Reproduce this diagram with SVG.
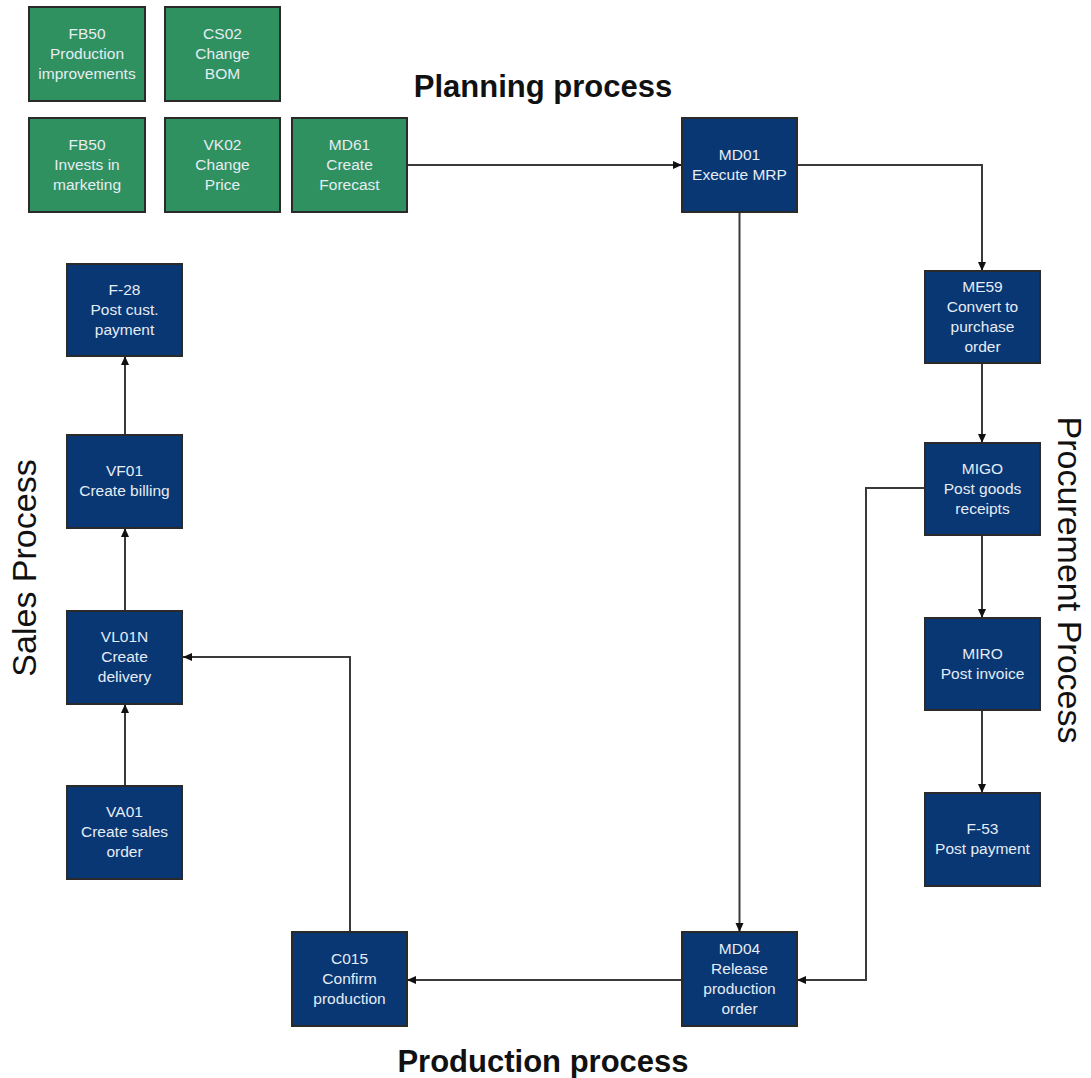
<svg xmlns="http://www.w3.org/2000/svg" width="1091" height="1078" viewBox="0 0 1091 1078">
<defs>
<style>
.g{fill:#2f9160;stroke:#2a2a2a;stroke-width:2}
.b{fill:#083774;stroke:#2a2a2a;stroke-width:2}
.t{font-family:"Liberation Sans",Arial,sans-serif;font-size:15.5px;fill:#e6ecf4;text-anchor:middle}
.h{font-family:"Liberation Sans",Arial,sans-serif;font-size:31px;font-weight:bold;fill:#111;text-anchor:middle}
.s{font-family:"Liberation Sans",Arial,sans-serif;font-size:34px;fill:#111;text-anchor:middle}
.c{fill:none;stroke:#3a3a3a;stroke-width:2;marker-end:url(#a)}
</style>
<marker id="a" markerWidth="10" markerHeight="10" refX="9" refY="5" orient="auto" markerUnits="userSpaceOnUse">
<path d="M0,1 L9,5 L0,9 z" fill="#111"/>
</marker>
</defs>
<rect width="1091" height="1078" fill="#fff"/>

<text class="h" x="543" y="97">Planning process</text>
<text class="h" x="543" y="1072">Production process</text>
<text class="s" transform="translate(36,568) rotate(-90)">Sales Process</text>
<text class="s" transform="translate(1058,580) rotate(90)">Procurement Process</text>

<g id="connectors">
<path class="c" d="M407,165 H682"/>
<path class="c" d="M797,165 H982 V271"/>
<path class="c" d="M739.5,212 V932"/>
<path class="c" d="M982,363 V443"/>
<path class="c" d="M982,535 V618"/>
<path class="c" d="M982,710 V793"/>
<path class="c" d="M925,488 H866 V980 H797"/>
<path class="c" d="M682,980 H407"/>
<path class="c" d="M350,932 V657 H183"/>
<path class="c" d="M125,786 V704"/>
<path class="c" d="M125,611 V528"/>
<path class="c" d="M125,435 V356"/>
</g>

<g id="fb50-prod"><rect class="g" x="29" y="7" width="116" height="94"/>
<text class="t" x="87" y="39">FB50</text><text class="t" x="87" y="59">Production</text><text class="t" x="87" y="79">improvements</text></g>
<g id="cs02"><rect class="g" x="165" y="7" width="115" height="94"/>
<text class="t" x="222.5" y="39">CS02</text><text class="t" x="222.5" y="59">Change</text><text class="t" x="222.5" y="79">BOM</text></g>
<g id="fb50-mkt"><rect class="g" x="29" y="118" width="116" height="94"/>
<text class="t" x="87" y="150">FB50</text><text class="t" x="87" y="170">Invests in</text><text class="t" x="87" y="190">marketing</text></g>
<g id="vk02"><rect class="g" x="165" y="118" width="115" height="94"/>
<text class="t" x="222.5" y="150">VK02</text><text class="t" x="222.5" y="170">Change</text><text class="t" x="222.5" y="190">Price</text></g>
<g id="md61"><rect class="g" x="292" y="118" width="115" height="94"/>
<text class="t" x="349.5" y="150">MD61</text><text class="t" x="349.5" y="170">Create</text><text class="t" x="349.5" y="190">Forecast</text></g>

<g id="md01"><rect class="b" x="682" y="118" width="115" height="94"/>
<text class="t" x="739.5" y="160">MD01</text><text class="t" x="739.5" y="180">Execute MRP</text></g>
<g id="me59"><rect class="b" x="925" y="271" width="115" height="92"/>
<text class="t" x="982.5" y="292">ME59</text><text class="t" x="982.5" y="312">Convert to</text><text class="t" x="982.5" y="332">purchase</text><text class="t" x="982.5" y="352">order</text></g>
<g id="migo"><rect class="b" x="925" y="443" width="115" height="92"/>
<text class="t" x="982.5" y="474">MIGO</text><text class="t" x="982.5" y="494">Post goods</text><text class="t" x="982.5" y="514">receipts</text></g>
<g id="miro"><rect class="b" x="925" y="618" width="115" height="92"/>
<text class="t" x="982.5" y="659">MIRO</text><text class="t" x="982.5" y="679">Post invoice</text></g>
<g id="f53"><rect class="b" x="925" y="793" width="115" height="93"/>
<text class="t" x="982.5" y="834">F-53</text><text class="t" x="982.5" y="854">Post payment</text></g>

<g id="md04"><rect class="b" x="682" y="932" width="115" height="94"/>
<text class="t" x="739.5" y="954">MD04</text><text class="t" x="739.5" y="974">Release</text><text class="t" x="739.5" y="994">production</text><text class="t" x="739.5" y="1014">order</text></g>
<g id="c015"><rect class="b" x="292" y="932" width="115" height="94"/>
<text class="t" x="349.5" y="964">C015</text><text class="t" x="349.5" y="984">Confirm</text><text class="t" x="349.5" y="1004">production</text></g>

<g id="f28"><rect class="b" x="67" y="264" width="115" height="92"/>
<text class="t" x="124.5" y="295">F-28</text><text class="t" x="124.5" y="315">Post cust.</text><text class="t" x="124.5" y="335">payment</text></g>
<g id="vf01"><rect class="b" x="67" y="435" width="115" height="93"/>
<text class="t" x="124.5" y="476">VF01</text><text class="t" x="124.5" y="496">Create billing</text></g>
<g id="vl01n"><rect class="b" x="67" y="611" width="115" height="93"/>
<text class="t" x="124.5" y="642">VL01N</text><text class="t" x="124.5" y="662">Create</text><text class="t" x="124.5" y="682">delivery</text></g>
<g id="va01"><rect class="b" x="67" y="786" width="115" height="93"/>
<text class="t" x="124.5" y="817">VA01</text><text class="t" x="124.5" y="837">Create sales</text><text class="t" x="124.5" y="857">order</text></g>
</svg>
